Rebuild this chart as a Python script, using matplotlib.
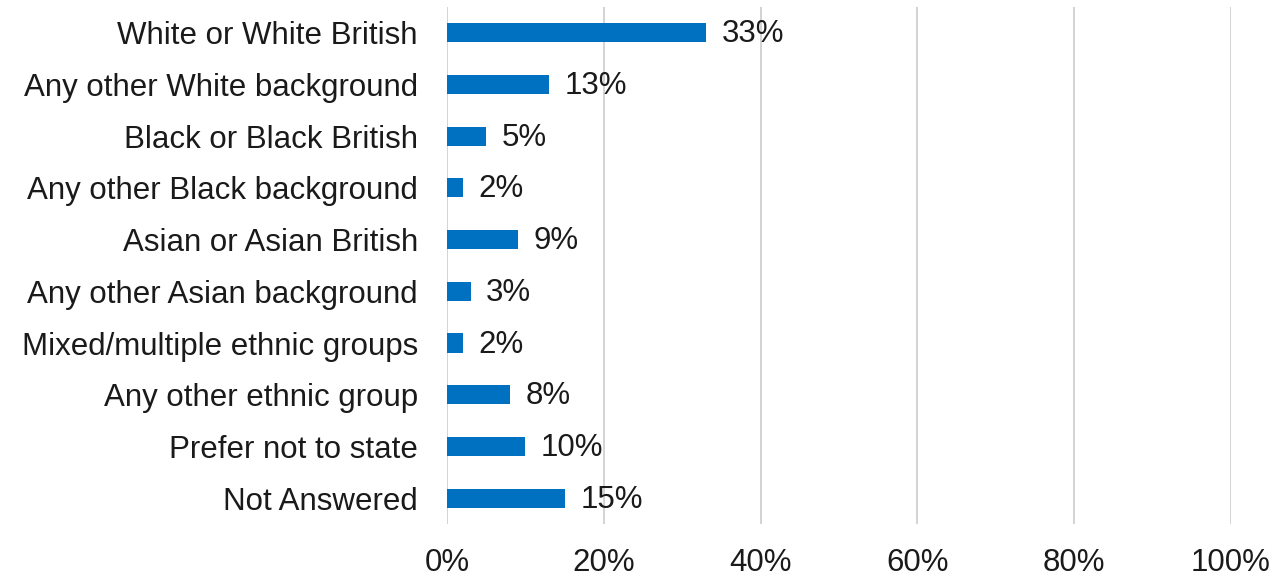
import matplotlib
matplotlib.use("Agg")
import matplotlib.pyplot as plt
from matplotlib.ticker import FuncFormatter

plt.rcParams['font.family'] = ['Liberation Sans', 'DejaVu Sans']

groups = ["White or White British", "Any other White background",
          "Black or Black British", "Any other Black background",
          "Asian or Asian British", "Any other Asian background",
          "Mixed/multiple ethnic groups", "Any other ethnic group",
          "Prefer not to state", "Not Answered"]
shares = [33, 13, 5, 2, 9, 3, 2, 8, 10, 15]
xticks = [0, 20, 40, 60, 80, 100]

fig = plt.figure(figsize=(12.76, 5.79), dpi=100)
ax = fig.add_axes([0.3503, 0.095, 0.6144, 0.893])

ypos = list(range(len(groups)))
ax.barh(ypos, shares, height=0.37, color='#0070C0', zorder=3)
for y, v in zip(ypos, shares):
    ax.text(v + 2.0, y + 0.03, f"{v}%", va='center', ha='left', fontsize=22.5, color='#1a1a1a')

ax.set_yticks(ypos)
ax.set_yticklabels(groups, fontsize=22.5, color='#1a1a1a')
ax.set_ylim(len(groups) - 0.5, -0.5)
ax.set_xlim(0, 100)
ax.set_xticks(xticks)
ax.xaxis.set_major_formatter(FuncFormatter(lambda v, p: f"{v:.0f}%"))
ax.tick_params(axis='x', labelsize=22.5, labelcolor='#1a1a1a', length=0, pad=17)
ax.tick_params(axis='y', length=0, pad=21)
ax.grid(axis='x', color='#D0D0D0', linewidth=1.3, zorder=0)
for s in ax.spines.values():
    s.set_visible(False)

fig.savefig("out.png", dpi=100)
